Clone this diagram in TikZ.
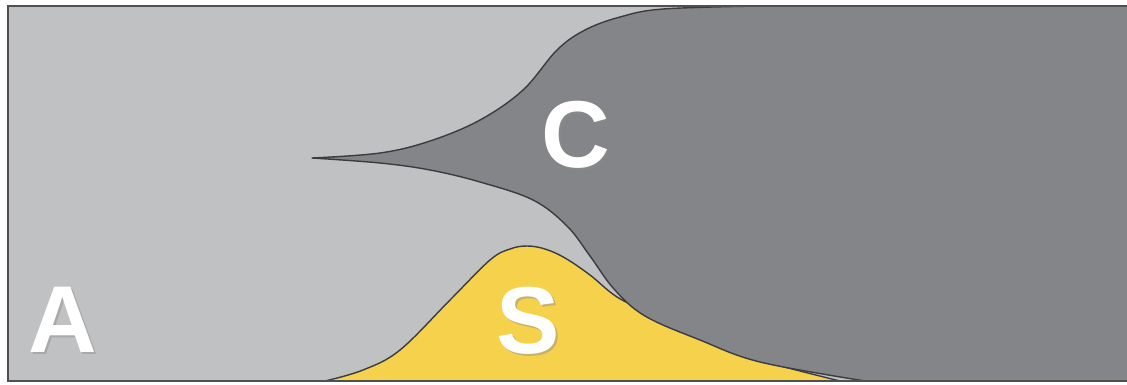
\documentclass[tikz,border=0pt]{standalone}
\usepackage{fontspec}
\setmainfont{Liberation Sans}
\definecolor{lightg}{HTML}{C0C1C3}
\definecolor{darkg}{HTML}{848589}
\definecolor{yell}{HTML}{F6D24C}
\definecolor{edge}{HTML}{3C3C3E}
\definecolor{frame}{HTML}{505052}
\tikzset{
  region/.style={draw=edge, line width=1.4pt, line join=round},
  letter/.style={text=white, font=\fontsize{95}{95}\selectfont\bfseries, inner sep=0pt},
  shadow/.style={text=black!45, opacity=0.45, font=\fontsize{95}{95}\selectfont\bfseries, inner sep=0pt}
}
\begin{document}
\begin{tikzpicture}[x=1pt,y=-1pt]
\useasboundingbox (0,0) rectangle (1127,384);
\begin{scope}
\clip (0,0) rectangle (1127,384);
\fill[white] (0,0) rectangle (1127,384);
\fill[lightg] (8,6) rectangle (1140,381);
% yellow hump S
\fill[yell] plot[smooth, tension=0.6] coordinates {(325,381) (363,370) (400,350) (450,300) (490,260) (510,249) (527,246) (545,249) (565,258) (590,275) (617,297) (650,313) (700,337) (760,360) (840,381)} -- cycle;
\draw[region] plot[smooth, tension=0.6] coordinates {(325,381) (363,370) (400,350) (450,300) (490,260) (510,249) (527,246) (545,249) (565,258) (590,275) (617,297) (650,313) (700,337) (760,360) (840,381)};
% dark region C
\fill[darkg] plot[smooth, tension=0.6] coordinates {(760,6) (663,9) (620,17) (585,30) (557,50) (523,90) (480,120) (430,141) (380,153) (312,158)}
  -- plot[smooth, tension=0.6] coordinates {(312,158) (380,163) (430,170) (480,182) (533,200) (567,226) (590,256) (614,289) (645,316) (700,340) (760,362) (865,381)}
  -- (1140,381) -- (1140,6) -- cycle;
\draw[region] plot[smooth, tension=0.6] coordinates {(760,6) (663,9) (620,17) (585,30) (557,50) (523,90) (480,120) (430,141) (380,153) (312,158)}
  -- plot[smooth, tension=0.6] coordinates {(312,158) (380,163) (430,170) (480,182) (533,200) (567,226) (590,256) (614,289) (645,316) (700,340) (760,362) (865,381)};
% frame
\draw[frame, line width=2.6pt] (8,6) rectangle (1140,381);
\end{scope}
% letters
\node[shadow] (As) at (65,322) {A};
\node[letter] (A) at (63,320) {A};
\node[shadow] (Cs) at (578,136.5) {C};
\node[letter] (C) at (576,134.5) {C};
\node[shadow] (Ss) at (530,323) {S};
\node[letter] (S) at (528,321) {S};
\end{tikzpicture}
\end{document}
